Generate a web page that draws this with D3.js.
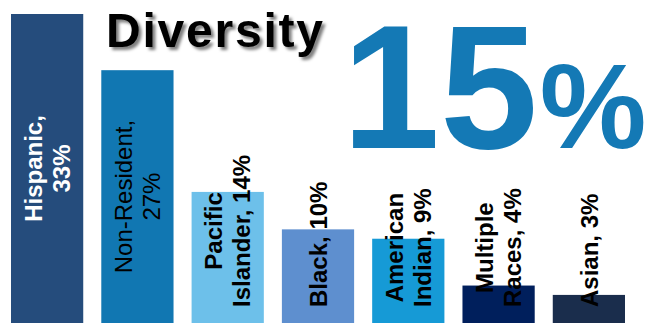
<!DOCTYPE html>
<html>
<head>
<meta charset="utf-8">
<script src="https://cdn.jsdelivr.net/npm/d3@7/dist/d3.min.js"></script>
<style>
  html, body { margin: 0; padding: 0; background: #ffffff; }
  svg { display: block; }
</style>
</head>
<body>
<svg id="chart" width="646" height="323"></svg>
<script>
// Enrolment share by group
const categories = ["Hispanic", "Non-Resident", "Pacific Islander", "Black", "American Indian", "Multiple Races", "Asian"];
const values = [33, 27, 14, 10, 9, 4, 3];
// whether a label breaks onto two lines at its first space
const wrapLabel = [true, true, true, false, true, true, false];
// label placement inside each bar: centred in the bar, or resting near its base
const labelPlace = ["middle", "middle", "base", "base", "base", "base", "base"];
const barColors = ["#254c7c", "#1177b2", "#6dc0ea", "#5e8fcf", "#169ad6", "#001f5c", "#1a2d4c"];
const labelColors = ["#ffffff", "#000000", "#000000", "#000000", "#000000", "#000000", "#000000"];
const labelWeights = ["bold", "normal", "bold", "bold", "bold", "bold", "bold"];

const titleText = "Diversity";
const headlineValue = 15;

const W = 646, H = 323;
const svg = d3.select("#chart");
const font = "'Liberation Sans', Arial, sans-serif";

const x = d3.scaleBand()
  .domain(categories)
  .range([11, 625])
  .paddingInner(0.2)
  .paddingOuter(0);

const y = d3.scaleLinear()
  .domain([0, d3.max(values)])
  .range([H, 14]);

const data = categories.map((c, i) => ({
  name: c,
  value: values[i],
  color: barColors[i],
  labelColor: labelColors[i],
  weight: labelWeights[i],
  place: labelPlace[i],
  wrap: wrapLabel[i]
}));

// shadow behind the title
const defs = svg.append("defs");
defs.append("filter")
  .attr("id", "titleShadow")
  .attr("x", "-10%").attr("y", "-20%")
  .attr("width", "130%").attr("height", "150%")
  .append("feDropShadow")
  .attr("dx", 3).attr("dy", 3)
  .attr("stdDeviation", 1.6)
  .attr("flood-color", "#000000")
  .attr("flood-opacity", 0.5);

// bars
svg.append("g")
  .selectAll("rect")
  .data(data)
  .join("rect")
  .attr("x", d => x(d.name))
  .attr("y", d => y(d.value))
  .attr("width", x.bandwidth())
  .attr("height", d => y(0) - y(d.value))
  .attr("fill", d => d.color);

// title
svg.append("text")
  .attr("x", 106)
  .attr("y", 47)
  .attr("font-family", font)
  .attr("font-weight", "bold")
  .attr("font-size", 48)
  .attr("textLength", 217)
  .attr("lengthAdjust", "spacing")
  .attr("fill", "#000000")
  .attr("filter", "url(#titleShadow)")
  .text(titleText);

// headline figure
const big = svg.append("text")
  .attr("x", 342)
  .attr("y", 148)
  .attr("font-family", font)
  .attr("font-weight", "bold")
  .attr("fill", "#1479b5");
big.append("tspan").attr("font-size", 176).text(String(headlineValue));
big.append("tspan").attr("font-size", 120).attr("dx", 2).text("%");

// rotated value labels
const lineGap = 28;
const fontSize = 24;
const labels = svg.append("g");

data.forEach(d => {
  const full = `${d.name}, ${d.value}%`;
  let lines = [full];
  if (d.wrap) {
    const k = full.indexOf(" ");
    lines = [full.slice(0, k), full.slice(k + 1)];
  }
  const cx = x(d.name) + x.bandwidth() / 2;
  const g = labels.append("g");
  const t = g.append("text")
    .attr("font-family", font)
    .attr("font-size", fontSize)
    .attr("font-weight", d.weight)
    .attr("fill", d.labelColor)
    .attr("text-anchor", "middle");
  lines.forEach((ln, j) => {
    t.append("tspan")
      .attr("x", 0)
      .attr("y", (j - (lines.length - 1) / 2) * lineGap)
      .attr("dy", "0.36em")
      .text(ln);
  });
  // longest line decides how far the block reaches
  const longest = d3.max(t.selectAll("tspan").nodes(), n => n.getComputedTextLength());
  let cy;
  if (d.place === "middle") {
    cy = (y(d.value) + y(0)) / 2;
  } else {
    cy = y(0) - 16 - longest / 2;
  }
  g.attr("transform", `translate(${cx},${cy}) rotate(-90)`);
});
</script>
</body>
</html>
